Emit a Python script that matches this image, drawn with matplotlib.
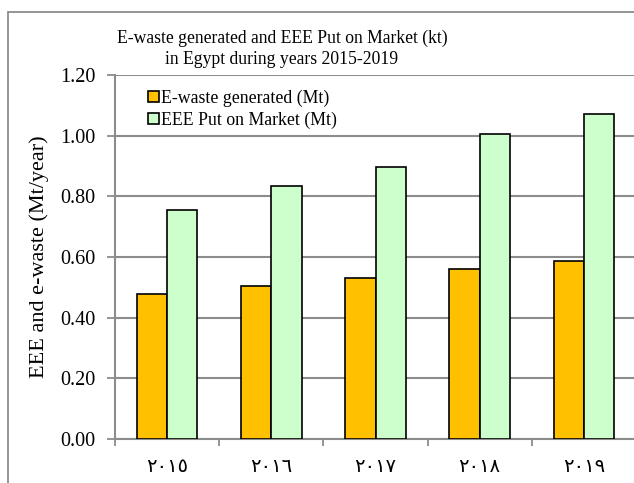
import matplotlib
matplotlib.use("Agg")
import matplotlib.pyplot as plt
import numpy as np
from matplotlib.patches import Rectangle

years = ["٢٠١٥", "٢٠١٦", "٢٠١٧", "٢٠١٨", "٢٠١٩"]
ewaste = [0.478, 0.505, 0.532, 0.559, 0.586]
eee = [0.755, 0.834, 0.897, 1.005, 1.070]
series_names = ["E-waste generated (Mt)", "EEE Put on Market (Mt)"]

plt.rcParams['font.family'] = ['Liberation Serif', 'DejaVu Sans']

W, H = 634, 483
fig = plt.figure(figsize=(W/100, H/100), dpi=100)

# outer frame
fig.patches.append(Rectangle((8/W, -0.01), 1.0, 1 - 12/H + 0.01, transform=fig.transFigure,
                             fill=False, edgecolor='#8c8c8c', linewidth=1.3, zorder=0))

ax = fig.add_axes([115/W, 1 - 439/H, (636 - 115)/W, (439 - 75)/H])

x = np.arange(len(years))
bw = 0.29
ax.bar(x - bw/2, ewaste, bw, color='#FFC000', edgecolor='black', linewidth=1.2,
       label=series_names[0], zorder=3)
ax.bar(x + bw/2, eee, bw, color='#CCFFCC', edgecolor='black', linewidth=1.2,
       label=series_names[1], zorder=3)

ax.set_xlim(-0.5, len(years) - 0.5)
ax.set_ylim(0, 1.2)
ax.set_yticks(np.arange(0, 1.21, 0.2))
ax.set_yticklabels([f"{v:.2f}" for v in np.arange(0, 1.21, 0.2)], fontsize=14.5)
ax.yaxis.grid(True, color='#8c8c8c', linewidth=1.5, zorder=0)
ax.set_axisbelow(True)

ax.set_xticks(x)
ax.set_xticklabels(years, fontsize=14, family=['DejaVu Sans'])
ax.set_xticks(np.arange(-0.5, len(years), 1.0), minor=True)
ax.tick_params(axis='x', which='major', length=0, pad=13)
ax.tick_params(axis='x', which='minor', length=5, width=1.3, color='#8c8c8c', direction='out')
ax.tick_params(axis='y', length=6, width=1.3, color='#8c8c8c', pad=8)

for s in ['top', 'right']:
    ax.spines[s].set_visible(False)
for s in ['left', 'bottom']:
    ax.spines[s].set_color('#8c8c8c')
    ax.spines[s].set_linewidth(1.5)

ax.set_ylabel("EEE and e-waste (Mt/year)", fontsize=16, labelpad=8)

leg = ax.legend(loc='upper left', bbox_to_anchor=(0.04, 0.995), frameon=False,
                fontsize=12.8, handlelength=0.6, handleheight=0.6, handletextpad=0.12,
                labelspacing=0.28, borderaxespad=0.3)

fig.text(282/W, 1 - 38/H, "E-waste generated and EEE Put on Market (kt)",
         ha='center', va='center', fontsize=12.7)
fig.text(282/W, 1 - 59/H, "in Egypt during years 2015-2019",
         ha='center', va='center', fontsize=12.7)

fig.savefig("out.png", dpi=100)
